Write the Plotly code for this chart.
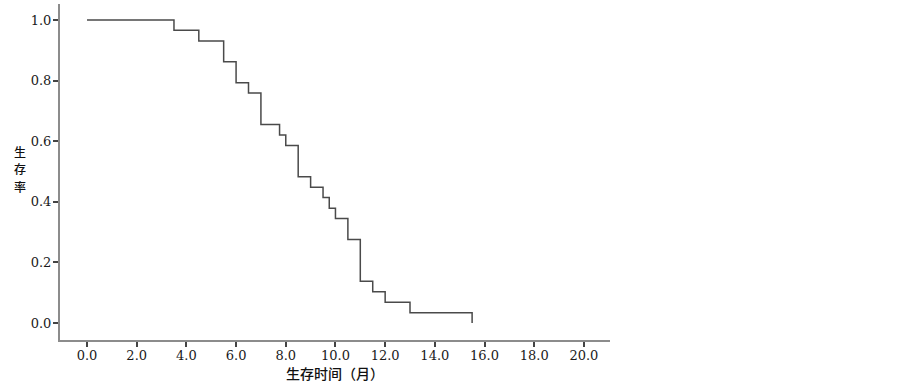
import plotly.graph_objects as go

# Kaplan-Meier survival curve data
time_months = [0.0, 3.5, 4.5, 5.5, 6.0, 6.5, 7.0, 7.75, 8.0, 8.5, 9.0, 9.5, 9.75, 10.0, 10.5, 11.0, 11.5, 12.0, 13.0, 15.5]
survival = [1.0, 0.966, 0.931, 0.862, 0.793, 0.759, 0.655, 0.621, 0.586, 0.483, 0.448, 0.414, 0.379, 0.345, 0.276, 0.138, 0.103, 0.069, 0.034, 0.0]

x_tickvals = [0, 2, 4, 6, 8, 10, 12, 14, 16, 18, 20]
x_ticktext = ["0.0", "2.0", "4.0", "6.0", "8.0", "10.0", "12.0", "14.0", "16.0", "18.0", "20.0"]
y_tickvals = [0.0, 0.2, 0.4, 0.6, 0.8, 1.0]
y_ticktext = ["0.0", "0.2", "0.4", "0.6", "0.8", "1.0"]

x_title = "生存时间（月）"
y_title = "生存率"

fig = go.Figure()
fig.add_trace(go.Scatter(
    x=time_months, y=survival, mode="lines", line_shape="hv",
    line=dict(color="#4a4a4a", width=1.5), showlegend=False, hoverinfo="skip"))

num_font = dict(family="DejaVu Serif, serif", size=13, color="#1a1a1a")
cjk_font = dict(family="Noto Sans CJK SC", size=14, color="#111111", weight=500)
cjk_font_y = dict(family="Noto Sans CJK SC", size=12, color="#111111", weight=500)

# plot area: x 60..610 px, y 4..340 px
plot_top, plot_bottom = 4, 340
def paper_y(py):
    return (plot_bottom - py) / (plot_bottom - plot_top)

annotations = [
    dict(text=x_title, xref="paper", yref="paper", x=0.5, y=0, yshift=-33,
         xanchor="center", yanchor="middle", showarrow=False, font=cjk_font),
]
for i, ch in enumerate(y_title):
    annotations.append(dict(text=ch, xref="paper", yref="paper", x=0, xshift=-40,
                            y=paper_y(151 + 17.5 * i), xanchor="center", yanchor="middle",
                            showarrow=False, font=cjk_font_y))

fig.update_layout(
    width=903, height=383,
    margin=dict(l=60, r=293, t=plot_top, b=383 - plot_bottom, autoexpand=False),
    paper_bgcolor="white", plot_bgcolor="white",
    xaxis=dict(range=[-1.087, 21.05], tickvals=x_tickvals, ticktext=x_ticktext,
               showgrid=False, zeroline=False, showline=True, linecolor="#8c8c8c", linewidth=2,
               ticks="outside", ticklen=5, tickwidth=1.5, tickcolor="#444444",
               tickfont=num_font, fixedrange=True, automargin=False, ticklabelstandoff=-3),
    yaxis=dict(range=[-0.056, 1.053], tickvals=y_tickvals, ticktext=y_ticktext,
               showgrid=False, zeroline=False, showline=True, linecolor="#8c8c8c", linewidth=2,
               ticks="outside", ticklen=5, tickwidth=1.5, tickcolor="#444444",
               tickfont=num_font, fixedrange=True, automargin=False, ticklabelstandoff=-1),
    annotations=annotations,
)

fig.write_html("out.html", config={"displayModeBar": False},
               post_script="document.body.style.margin='0';document.body.style.overflow='hidden';")
